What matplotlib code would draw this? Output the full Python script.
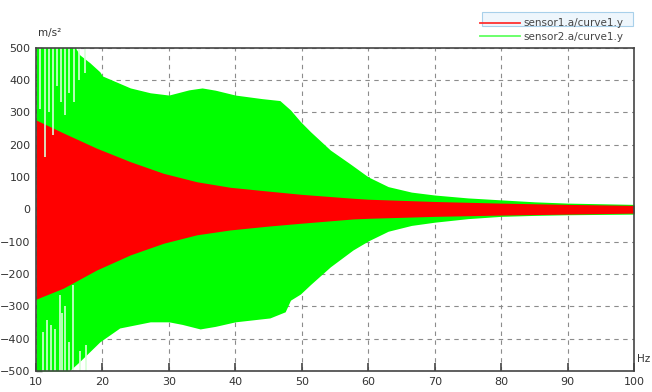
import matplotlib
matplotlib.use('Agg')
import matplotlib.pyplot as plt
from matplotlib.patches import Rectangle
from matplotlib.lines import Line2D

# envelope of sensor2 (green)
G_UP_FREQ = [10, 15.9, 16.6, 18.1, 19.6, 20, 24.2, 27.2, 30, 33, 35, 37, 40, 44, 46.7, 48.3, 49.8,
             51.3, 54.3, 57.3, 60, 63, 66.5, 70, 75, 80, 85, 90, 95, 100]
G_UP_VAL = [500, 500, 477, 453, 425, 412, 375, 360, 353, 369, 375, 368, 353, 342, 336, 307, 271,
            240, 183, 140, 100, 70, 53, 44, 35, 29, 23, 19, 17, 15]
G_LO_FREQ = [10, 15, 16.6, 19.6, 22.6, 27.2, 30, 32, 34.7, 37, 40, 45.2, 47.5, 48.3, 49.8,
             51.3, 54.3, 57.7, 60, 63, 66.5, 70, 75, 80, 85, 90, 95, 100]
G_LO_VAL = [-500, -500, -470, -410, -367, -348, -348, -356, -370, -362, -348, -336, -317, -281, -262,
            -233, -178, -126, -98, -68, -50, -40, -29, -22, -19, -17, -16, -15]

# envelope of sensor1 (red)
R_FREQ = [10, 14.1, 19.1, 24.2, 29.2, 34.2, 39.2, 45, 50, 57.7, 60, 70, 80, 90, 100]
R_UP_VAL = [276, 236, 189, 147, 111, 85, 68, 56, 46, 34, 31, 24, 19, 15, 12]
R_LO_VAL = [-278, -244, -188, -141, -105, -79, -64, -52, -43, -30, -28, -22, -18, -15, -12]

# pale gaps between the slow oscillations at the start of the sweep
GAP_UP_X = [10.6, 11.3, 12.0, 12.6, 13.2, 13.8, 14.4, 15.0, 15.7, 16.5, 17.4]
GAP_UP_END = [310, 160, 300, 230, 380, 330, 290, 360, 330, 400, 420]
GAP_LO_X = [11.1, 11.7, 12.2, 12.9, 13.6, 13.9, 14.4, 14.9, 15.6, 16.6, 17.6]
GAP_LO_END = [-378, -343, -359, -370, -265, -320, -300, -410, -234, -437, -420]

X_TICKS = list(range(10, 101, 10))
Y_TICKS = list(range(-500, 501, 100))

W, H = 652, 392
fig = plt.figure(figsize=(W / 100, H / 100), dpi=100)
ax = fig.add_axes([36 / W, 1 - 371 / H, (634 - 36) / W, (371 - 47.5) / H])

ax.fill_between(G_UP_FREQ, G_UP_VAL, 0, color='#00ff00', lw=0)
ax.fill_between(G_LO_FREQ, G_LO_VAL, 0, color='#00ff00', lw=0)
ax.fill_between(R_FREQ, R_UP_VAL, R_LO_VAL, color='#ff0000', lw=0)
ax.vlines(GAP_UP_X, GAP_UP_END, 500, color='#d8ffd8', lw=1.2)
ax.vlines(GAP_LO_X, -500, GAP_LO_END, color='#d8ffd8', lw=1.2)

ax.set_xlim(10, 100)
ax.set_ylim(-500, 500)
ax.set_xticks(X_TICKS)
ax.set_yticks(Y_TICKS)
ax.grid(True, color='#8c8c8c', linestyle=(0, (4, 4)), lw=0.8)
ax.set_axisbelow(True)
ax.tick_params(axis='x', direction='in', length=6, width=1.2, color='#444', labelsize=8,
               labelcolor='#333', pad=4)
ax.tick_params(axis='y', direction='in', length=4, width=1, color='#444', labelsize=8,
               labelcolor='#333', pad=4)
for s in ax.spines.values():
    s.set_color('#444')
    s.set_linewidth(1.2)

fig.text(38 / W, 1 - 36 / H, 'm/s²', fontsize=7.5, color='#333', va='baseline')
fig.text(637 / W, 1 - 362 / H, 'Hz', fontsize=7.5, color='#333', va='baseline')

handles = [Line2D([], [], color='#ff3030', lw=1.3), Line2D([], [], color='#60ff60', lw=1.3)]
fig.legend(handles, ['sensor1.a/curve1.y', 'sensor2.a/curve1.y'], loc='upper right',
           bbox_to_anchor=(629 / W, 1 - 13 / H), frameon=False, fontsize=7.5, borderpad=0,
           handlelength=3.85, handletextpad=0.4, labelspacing=0.35, labelcolor='#444')
fig.patches.append(Rectangle((482 / W, 1 - 25.5 / H), 151 / W, 13 / H, transform=fig.transFigure,
                             facecolor='#eef6fc', edgecolor='#a8d0ea', lw=0.8, zorder=-1))

fig.savefig('out.png', dpi=100)
